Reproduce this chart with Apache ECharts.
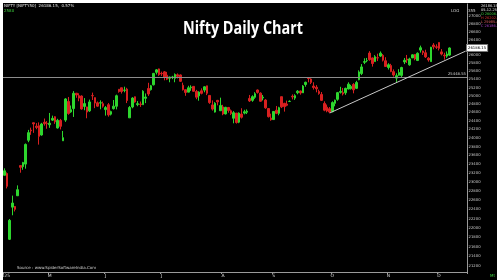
<!DOCTYPE html>
<html><head><meta charset="utf-8">
<script src="https://cdn.jsdelivr.net/npm/echarts@6/dist/echarts.min.js"></script>
<style>
html,body{margin:0;padding:0;background:#fff;width:500px;height:280px;overflow:hidden}
#c{position:absolute;left:3px;top:3px;width:494px;height:277px;background:#000}
</style></head>
<body><div id="c"></div>
<script>
const dates = ['03-04','04-04','07-04','08-04','09-04','11-04','15-04','16-04','17-04','21-04','22-04','23-04','24-04','25-04','28-04','29-04','30-04',
'02-05','05-05','06-05','07-05','08-05','09-05','12-05','13-05','14-05','15-05','16-05','19-05','20-05','21-05','22-05','23-05','26-05','27-05','28-05','29-05','30-05',
'02-06','03-06','04-06','05-06','06-06','09-06','10-06','11-06','12-06','13-06','16-06','17-06','18-06','19-06','20-06','23-06','24-06','25-06','26-06','27-06','30-06',
'01-07','02-07','03-07','04-07','07-07','08-07','09-07','10-07','11-07','14-07','15-07','16-07','17-07','18-07','21-07','22-07','23-07','24-07','25-07','28-07','29-07','30-07','31-07',
'01-08','04-08','05-08','06-08','07-08','08-08','11-08','12-08','13-08','14-08','18-08','19-08','20-08','21-08','22-08','25-08','26-08','28-08','29-08',
'01-09','02-09','03-09','04-09','05-09','08-09','09-09','10-09','11-09','12-09','15-09','16-09','17-09','18-09','19-09','22-09','23-09','24-09','25-09','26-09','29-09','30-09',
'01-10','03-10','06-10','07-10','08-10','09-10','10-10','13-10','14-10','15-10','16-10','17-10','20-10','21-10','23-10','24-10','27-10','28-10','29-10','30-10','31-10',
'03-11','04-11','06-11','07-11','10-11','11-11','12-11','13-11','14-11','17-11','18-11','19-11','20-11','21-11','24-11','25-11','26-11','27-11','28-11',
'01-12','02-12','03-12','04-12','05-12','08-12','09-12','10-12','11-12','12-12','15-12'];

const opens = [23150,23190,21758,22446,22460,22695,23368,23344,23401,23949,24185,24357,24277,24289,24070,24370,24342,
24311,24419,24500,24234,24414,23935,24420,24864,24614,24694,25064,25005,24996,24745,24733,24639,25006,24957,24832,24825,24812,
24669,24786,24560,24691,24749,25160,25196,25134,25164,24473,24732,24978,24789,24803,24787,24940,25179,25150,25269,25576,25661,
25551,25588,25505,25428,25450,25427,25515,25511,25256,25149,25090,25196,25230,25108,24999,25122,25139,25244,25010,24782,24610,24890,24642,
24734,24566,24720,24641,24464,24586,24371,24563,24586,24607,24938,24891,24965,25142,25065,24949,24899,24695,24466,
24432,24654,24580,24980,24819,24802,24864,24991,24945,25074,25118,25073,25276,25441,25410,25238,25209,25108,25034,24818,24728,24691,
24620,24819,24916,25085,25079,25074,25167,25178,25277,25182,25394,25546,25824,25867,26057,25935,25843,25939,25982,26000,25864,
25696,25744,25593,25433,25503,25500,25834,25906,25762,25936,26022,25871,26132,26109,26065,25929,25842,26261,26216,
26326,26087,26004,25980,26006];
const closes = [23250,22904,22162,22536,22399,22829,23328,23437,23852,24125,24167,24329,24247,24039,24328,24336,24334,
24347,24461,24380,24414,24273,24008,24925,24578,24667,25062,25020,24945,24683,24813,24610,24853,25001,24826,24752,24834,24751,
24717,24543,24621,24751,25003,25103,25105,25141,24888,24719,24946,24853,24812,24794,25112,24972,25045,25245,25549,25637,25517,
25542,25453,25405,25461,25461,25523,25476,25355,25150,25082,25196,25212,25112,24968,25091,25061,25220,25062,24837,24681,24821,24855,24768,
24565,24723,24650,24574,24596,24363,24585,24487,24619,24631,24877,24981,25051,25084,24870,24968,24712,24501,24427,
24625,24580,24715,24734,24741,24773,24868,24973,25005,25114,25069,25239,25330,25424,25327,25202,25170,25057,24891,24655,24635,24611,
24837,24895,25078,25108,25046,25182,25285,25228,25146,25324,25586,25710,25844,25868,25891,25795,25966,25936,26054,25878,25722,
25764,25598,25510,25492,25574,25695,25876,25880,25910,26013,25910,26052,26192,26068,25960,25885,26205,26215,26203,
26176,26032,25986,26034,26186];
const lows = [23145,22857,21743,22270,22353,22695,23207,23273,23298,23903,24073,24120,24205,23847,24054,24290,24216,
24238,24400,24331,24220,24200,23936,24378,24547,24592,24494,24953,24870,24669,24654,24463,24614,24900,24704,24737,24677,24717,
24526,24502,24530,24671,24674,25077,25056,25085,24826,24473,24701,24835,24750,24733,24784,24825,24999,25129,25253,25523,25489,
25488,25379,25384,25331,25407,25331,25424,25340,25129,25001,25088,25121,25100,24918,24882,25036,25086,25018,24807,24646,24599,24771,24636,
24535,24554,24596,24539,24344,24337,24347,24457,24556,24563,24852,24857,24929,25054,24859,24889,24689,24481,24405,
24432,24562,24534,24706,24621,24750,24851,24915,24903,25038,25028,25070,25222,25330,25286,25152,25085,25027,24878,24630,24606,24588,
24606,24748,24881,25055,25009,25024,25157,25152,25061,25165,25380,25508,25781,25827,25863,25718,25843,25856,25960,25846,25711,
25645,25578,25470,25318,25491,25449,25781,25808,25740,25935,25876,25856,26069,26010,25934,25842,25842,26152,26161,
26123,25998,25891,25938,25985];
const highs = [23306,23214,22190,22698,22469,22924,23368,23452,23873,24189,24242,24359,24348,24366,24355,24457,24396,
24589,24526,24510,24450,24448,24164,24944,24973,24767,25116,25070,25062,25011,24946,24737,24909,25079,24963,24864,24892,24863,
24754,24826,24644,24900,25029,25160,25199,25223,25196,24754,24968,24983,24874,24863,25136,25058,25318,25266,25562,25654,25669,
25593,25608,25587,25470,25489,25549,25548,25524,25322,25151,25245,25256,25238,25145,25111,25182,25233,25247,25011,24890,24847,24902,24956,
24784,24736,24733,24672,24634,24587,24603,24702,24664,24674,25022,25013,25088,25154,25085,25022,24919,24702,24572,
24636,24756,24737,24980,24832,24885,24891,25035,25038,25139,25126,25261,25346,25448,25428,25331,25261,25150,25093,24868,24791,24731,
24867,24908,25095,25220,25192,25199,25330,25268,25310,25366,25625,25781,25926,25935,26105,25944,26005,26041,26098,26032,25953,
25803,25787,25649,25551,25653,25715,25934,26010,25940,26025,26030,26075,26246,26119,26141,25954,26215,26310,26279,
26326,26158,26066,26099,26202];

const monthLabels = ['2025','M','J','J','A','S','O','N','D'];
const yTicks = [21200,21400,21600,21800,22000,22200,22400,22600,22800,23000,23200,23400,23600,23800,24000,
24200,24400,24600,24800,25000,25200,25400,25600,25800,26000,26200,26400,26600,26800,27000];
const levelLine = 25448.55;
const lastPrice = 26186.15;
const trendStart = ['30-09', 24588];
const trendEnd = ['15-12', 26107];

const monthStarts = [];
dates.forEach((d,i)=>{ if(i===0 || d.slice(3)!==dates[i-1].slice(3)) monthStarts.push(i); });
const monthMap = {};
monthStarts.forEach((idx,k)=>{ if(k<monthLabels.length) monthMap[idx]=monthLabels[k]; });

const candle = opens.map((o,i)=>[o, closes[i], lows[i], highs[i]]);

const chart = echarts.init(document.getElementById('c'));
const f4 = '4px "DejaVu Sans"';
chart.setOption({
  backgroundColor:'#000',
  animation:false,
  grid:{left:0, right:30, top:1, bottom:8, outerBoundsMode:'none', containLabel:false},
  xAxis:{type:'category', data:dates, boundaryGap:true,
    axisLine:{lineStyle:{color:'#9a9a9a', width:1}},
    axisTick:{show:true, length:2, interval:(i)=>monthMap[i]!==undefined, lineStyle:{color:'#9a9a9a'}},
    axisLabel:{interval:(i)=>monthMap[i]!==undefined, formatter:(v,i)=>monthMap[i]||'', color:'#d8d8d8', fontSize:4.5, margin:1, fontFamily:'DejaVu Sans'},
    splitLine:{show:false}},
  yAxis:{type:'log', position:'right', min:21080, max:27325, logBase:10,
    axisLine:{show:true, lineStyle:{color:'#9a9a9a', width:1}},
    axisTick:{show:false},
    axisLabel:{customValues:yTicks, formatter:(v)=>String(Math.round(v)), color:'#c8c8c8', fontSize:3.8, margin:1.5, fontFamily:'DejaVu Sans'},
    splitLine:{show:false}},
  series:[{type:'candlestick', data:candle, barWidth:2,
    itemStyle:{color:'#2ed62e', color0:'#d82020', borderColor:'#2ed62e', borderColor0:'#d82020', borderWidth:1},
    markLine:{silent:true, symbol:'none', animation:false,
      data:[
        {yAxis:levelLine, lineStyle:{color:'#8c8c8c', width:1, type:'solid'},
          label:{show:true, position:'insideEndTop', formatter:String(levelLine), color:'#d0d0d0', fontSize:3.8, distance:1, fontFamily:'DejaVu Sans'}},
        {yAxis:lastPrice, lineStyle:{color:'rgba(0,0,0,0)', width:1},
          label:{show:true, position:'end', formatter:String(lastPrice), color:'#000', backgroundColor:'#ffffff', borderColor:'#777', borderWidth:1, padding:[1,1], fontSize:3.8, distance:0, fontFamily:'DejaVu Sans'}},
        [{coord:trendStart, lineStyle:{color:'#c8c8c8', width:1, type:'solid'}, label:{show:false}}, {coord:trendEnd}]
      ]}
  }],
  graphic:[
    {type:'text', x:240, y:17, scaleX:0.8, style:{x:0, y:0, text:'Nifty Daily Chart', fill:'#fff', font:'bold 18px "Open Sans"', textAlign:'center'}},
    {type:'text', left:1, top:1, style:{text:'NIFTY [NIFTY50]  26186.15,  0.57%', fill:'#e0e0e0', font:f4}},
    {type:'text', left:1, top:6, style:{text:'2580', fill:'#3fd03f', font:f4}},
    {type:'text', left:448, top:6, style:{text:'LOG', fill:'#d0d0d0', font:f4}},
    {type:'text', left:465, top:6, style:{text:'355', fill:'#d0d0d0', font:f4}},
    {type:'text', left:478, top:1, style:{text:'26186.15', fill:'#e8e8e8', font:'3.5px "DejaVu Sans"'}},
    {type:'text', left:478, top:5, style:{text:'05-12-25 Fri', fill:'#e8e8e8', font:'3.5px "DejaVu Sans"'}},
    {type:'text', left:478, top:9, style:{text:'O 26006.45', fill:'#3fd03f', font:'3.5px "DejaVu Sans"'}},
    {type:'text', left:478, top:13, style:{text:'H 26202.60', fill:'#e03030', font:'3.5px "DejaVu Sans"'}},
    {type:'text', left:478, top:17, style:{text:'L 25985.45', fill:'#e06060', font:'3.5px "DejaVu Sans"'}},
    {type:'text', left:478, top:21, style:{text:'C 26186.45', fill:'#b040d0', font:'3.5px "DejaVu Sans"'}},
    {type:'text', left:14, top:263, style:{text:'Source : www.SpiderSoftwareIndia.Com', fill:'#d0d0d0', font:f4}},
    {type:'text', left:487, top:271, style:{text:'Mt', fill:'#3fd03f', font:f4}}
  ]
});
</script></body></html>
